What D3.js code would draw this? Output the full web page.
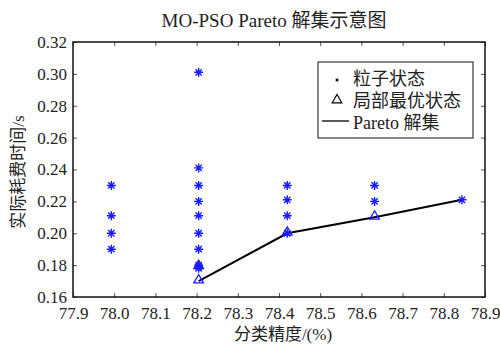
<!DOCTYPE html>
<html>
<head>
<meta charset="utf-8">
<script src="https://cdn.jsdelivr.net/npm/d3@7"></script>
<style>
body { margin: 0; background: #fff; }
text { font-family: "Liberation Serif", "Noto Sans CJK SC", serif; fill: #222; }
</style>
</head>
<body>
<script>
// particle states (x = accuracy, y = time)
var starX = [77.993, 77.993, 77.993, 77.993,
             78.205, 78.205, 78.205, 78.205, 78.205, 78.205, 78.205, 78.205, 78.205, 78.205,
             78.42, 78.42, 78.42, 78.42,
             78.632, 78.632,
             78.844];
var starY = [0.23, 0.211, 0.20, 0.19,
             0.301, 0.241, 0.23, 0.22, 0.211, 0.20, 0.19, 0.18, 0.179, 0.178,
             0.23, 0.221, 0.211, 0.20,
             0.23, 0.22,
             0.221];
// local best states
var triX = [78.205, 78.205, 78.42, 78.632];
var triY = [0.17, 0.179, 0.20, 0.21];
// pareto front
var paretoX = [78.205, 78.42, 78.632, 78.844];
var paretoY = [0.17, 0.20, 0.21, 0.221];

var xTicks = [77.9, 78.0, 78.1, 78.2, 78.3, 78.4, 78.5, 78.6, 78.7, 78.8, 78.9];
var yTicks = [0.16, 0.18, 0.20, 0.22, 0.24, 0.26, 0.28, 0.30, 0.32];

var W = 500, H = 344;
var pl = 73, pr = 485, pt = 42, pb = 297;
var serif = '"Liberation Serif", "Noto Sans CJK SC", serif';

var svg = d3.select("body").append("svg")
    .attr("width", W)
    .attr("height", H);

var x = d3.scaleLinear().domain([77.9, 78.9]).range([pl, pr]);
var y = d3.scaleLinear().domain([0.16, 0.32]).range([pb, pt]);

function styleTicks(g) {
  g.attr("font-family", serif);
  g.selectAll("text")
    .style("font-family", serif)
    .style("font-size", "17px")
    .attr("fill", "#222");
}

// axes with inward ticks
svg.append("g")
    .attr("transform", "translate(0," + pb + ")")
    .call(d3.axisBottom(x).tickValues(xTicks).tickSizeInner(-4).tickSizeOuter(0).tickPadding(10).tickFormat(d3.format(".1f")))
    .call(styleTicks);
svg.append("g")
    .attr("transform", "translate(0," + pt + ")")
    .call(d3.axisTop(x).tickValues(xTicks).tickSizeInner(-4).tickSizeOuter(0).tickFormat(""));
svg.append("g")
    .attr("transform", "translate(" + pl + ",0)")
    .call(d3.axisLeft(y).tickValues(yTicks).tickSizeInner(-4).tickSizeOuter(0).tickPadding(6).tickFormat(d3.format(".2f")))
    .call(styleTicks);
svg.append("g")
    .attr("transform", "translate(" + pr + ",0)")
    .call(d3.axisRight(y).tickValues(yTicks).tickSizeInner(-4).tickSizeOuter(0).tickFormat(""));

svg.selectAll(".domain").remove();
svg.selectAll(".tick line").attr("stroke", "#555");
svg.append("rect")
    .attr("x", pl).attr("y", pt)
    .attr("width", pr - pl).attr("height", pb - pt)
    .attr("fill", "none").attr("stroke", "#111").attr("stroke-width", 1.5);

// pareto line
var line = d3.line().x(d => x(d[0])).y(d => y(d[1]));
svg.append("path")
    .datum(paretoX.map((v, i) => [v, paretoY[i]]))
    .attr("d", line)
    .attr("fill", "none")
    .attr("stroke", "#000")
    .attr("stroke-width", 2);

// triangles
var tri = d3.symbol().type(d3.symbolTriangle).size(40);
svg.selectAll(".tri")
    .data(triX.map((v, i) => [v, triY[i]]))
    .enter().append("path")
    .attr("d", tri)
    .attr("transform", d => "translate(" + x(d[0]) + "," + (y(d[1]) - 1) + ")")
    .attr("fill", "none")
    .attr("stroke", "#1a1aff")
    .attr("stroke-width", 1.3);

// asterisks
function star(s) {
  var a = s * 0.7;
  return "M" + (-s) + ",0L" + s + ",0M0," + (-s) + "L0," + s +
         "M" + (-a) + "," + (-a) + "L" + a + "," + a + "M" + (-a) + "," + a + "L" + a + "," + (-a);
}
svg.selectAll(".star")
    .data(starX.map((v, i) => [v, starY[i]]))
    .enter().append("path")
    .attr("d", star(4.5))
    .attr("transform", d => "translate(" + x(d[0]) + "," + y(d[1]) + ")")
    .attr("stroke", "#1a1aff")
    .attr("stroke-width", 1.4);

// title and labels
svg.append("text")
    .attr("x", 274).attr("y", 27)
    .attr("text-anchor", "middle")
    .style("font-size", "19px")
    .text("MO-PSO  Pareto 解集示意图");
svg.append("text")
    .attr("x", 283).attr("y", 340)
    .attr("text-anchor", "middle")
    .style("font-size", "17px")
    .text("分类精度/(%)");
svg.append("text")
    .attr("transform", "translate(24,172) rotate(-90)")
    .attr("text-anchor", "middle")
    .style("font-size", "17px")
    .text("实际耗费时间/s");

// legend
var lg = svg.append("g");
lg.append("rect")
    .attr("x", 318).attr("y", 62).attr("width", 155).attr("height", 76)
    .attr("fill", "#fff").attr("stroke", "#111").attr("stroke-width", 1);
lg.append("path")
    .attr("d", star(1.6))
    .attr("transform", "translate(337,80)")
    .attr("stroke", "#000").attr("stroke-width", 1);
lg.append("path")
    .attr("d", tri)
    .attr("transform", "translate(337,100)")
    .attr("fill", "none").attr("stroke", "#000").attr("stroke-width", 1.2);
lg.append("line")
    .attr("x1", 322).attr("x2", 349).attr("y1", 121).attr("y2", 121)
    .attr("stroke", "#000").attr("stroke-width", 1.3);
var labels = ["粒子状态", "局部最优状态", "Pareto 解集"];
lg.selectAll(".lt")
    .data(labels)
    .enter().append("text")
    .attr("x", 353)
    .attr("y", (d, i) => 85 + i * 22)
    .style("font-size", "18px")
    .text(d => d);
</script>
</body>
</html>
